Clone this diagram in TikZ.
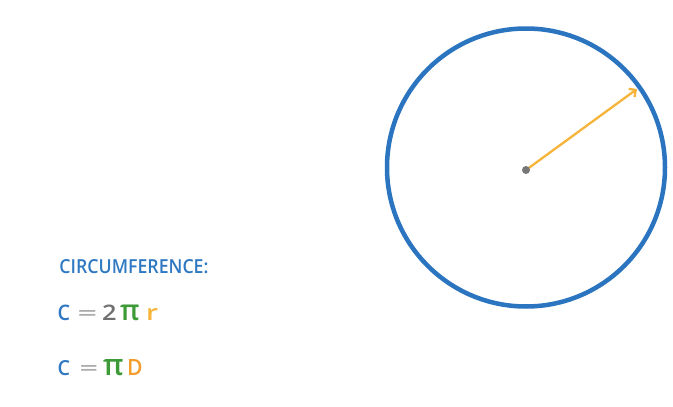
\documentclass[tikz,border=0pt]{standalone}
\usepackage{fontspec}
\setmainfont{Open Sans}
\newfontfamily\handfont{Open Sans Semibold}
\usepackage{graphicx}
\usetikzlibrary{arrows.meta,calc}
\definecolor{cblue}{HTML}{2B74BF}
\definecolor{tblue}{HTML}{2F78C2}
\definecolor{cgreen}{HTML}{3C9B36}
\definecolor{corange}{HTML}{F6B43A}
\definecolor{cdorange}{HTML}{F49C2C}
\definecolor{cgray}{HTML}{ABABAB}
\definecolor{cdgray}{HTML}{707070}
\definecolor{dotgray}{HTML}{777777}
\tikzset{
  glyph/.style={inner sep=0pt, outer sep=0pt, anchor=base west, font=\handfont},
  ring/.style={draw=cblue, line width=4.5pt},
  radiusarrow/.style={draw=corange, line width=2.3pt, line cap=round,
    -{Straight Barb[length=5pt,width=10pt,line width=2.3pt]}},
}
\begin{document}
\begin{tikzpicture}[x=1pt,y=-1pt]
\useasboundingbox[fill=white] (0,0) rectangle (673,407);
% circle
\coordinate (c) at (526,167.5);
\draw[ring] (c) circle[radius=139];
\coordinate (o) at (526,170);
\coordinate (tip) at ($(o)+(637-526,89-170)$);
\draw[radiusarrow] (o) -- (tip);
\node[circle, fill=dotgray, inner sep=0pt, minimum size=8pt] (dot) at (o) {};
% title
\node[glyph, text=tblue] (title) at (59.5,273) {\resizebox{149pt}{14pt}{CIRCUMFERENCE:}};
% line 1
\node[glyph, text=tblue] (c1) at (57.5,320.5) {\resizebox{12.5pt}{15.5pt}{C}};
\node[glyph, text=cgray] (e1) at (77.5,320.5) {\resizebox{19.5pt}{10pt}{=}};
\node[glyph, text=cdgray] (n1) at (102,320.5) {\resizebox{14.5pt}{15.5pt}{2}};
\node[glyph, text=cgreen] (p1) at (120,320.5) {\resizebox{19.5pt}{15.5pt}{π}};
\node[glyph, text=corange] (r1) at (146,320.5) {\resizebox{12pt}{12pt}{r}};
% line 2
\node[glyph, text=tblue] (c2) at (57.5,375) {\resizebox{12.5pt}{15pt}{C}};
\node[glyph, text=cgray] (e2) at (79.5,375) {\resizebox{18.5pt}{10pt}{=}};
\node[glyph, text=cgreen] (p2) at (103,375) {\resizebox{20.5pt}{16pt}{π}};
\node[glyph, text=cdorange] (d2) at (127,375) {\resizebox{15.5pt}{16pt}{D}};
\end{tikzpicture}
\end{document}
